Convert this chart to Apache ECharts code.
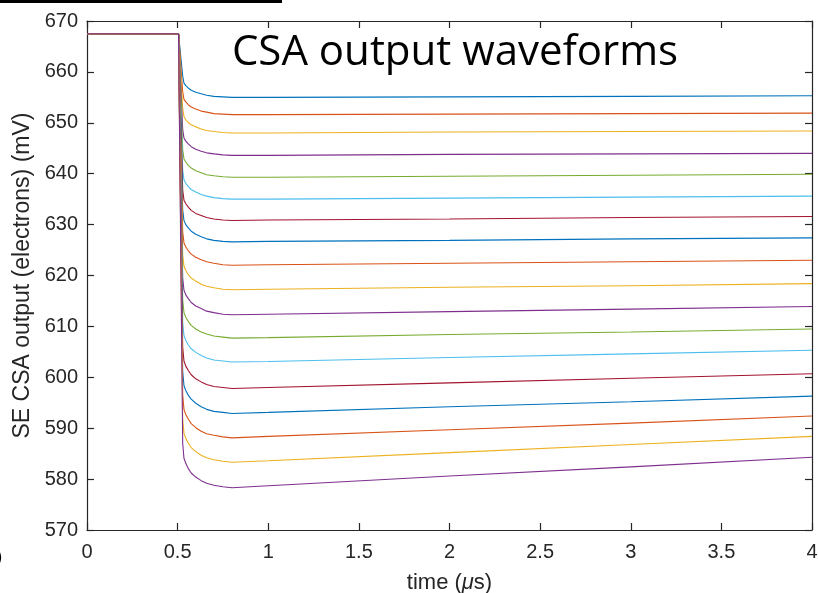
<!DOCTYPE html>
<html>
<head>
<meta charset="utf-8">
<script src="https://cdn.jsdelivr.net/npm/echarts@6/dist/echarts.min.js"></script>
<style>
html,body{margin:0;padding:0;background:#fff;}
#chart{width:818px;height:593px;}
</style>
</head>
<body>
<div id="chart"></div>
<script>
// Sample times (µs)
var times = [0, 0.505, 0.528, 0.535, 0.545, 0.56, 0.575, 0.6, 0.63, 0.66, 0.7, 0.75, 0.8, 1, 2, 3, 4];

// Waveform values (mV), top to bottom
var w01 = [667.5, 667.5, 659.2, 657.8, 657.3, 656.8, 656.4, 656.0, 655.7, 655.4, 655.2, 655.1, 655.0, 655.0, 655.1, 655.2, 655.3];
var w02 = [667.5, 667.5, 656.1, 654.6, 654.1, 653.5, 653.1, 652.7, 652.3, 652.1, 651.8, 651.7, 651.6, 651.6, 651.7, 651.8, 651.9];
var w03 = [667.5, 667.5, 652.8, 651.2, 650.6, 650.0, 649.6, 649.2, 648.8, 648.5, 648.3, 648.1, 648.0, 648.0, 648.2, 648.3, 648.4];
var w04 = [667.5, 667.5, 648.7, 647.0, 646.4, 645.8, 645.3, 644.8, 644.4, 644.1, 643.9, 643.7, 643.6, 643.6, 643.8, 643.9, 644.0];
var w05 = [667.5, 667.5, 644.7, 642.9, 642.3, 641.6, 641.1, 640.6, 640.2, 639.8, 639.6, 639.4, 639.3, 639.3, 639.5, 639.7, 639.9];
var w06 = [667.5, 667.5, 640.7, 638.8, 638.1, 637.4, 636.9, 636.4, 635.9, 635.6, 635.3, 635.1, 635.0, 635.0, 635.2, 635.4, 635.6];
var w07 = [667.5, 667.5, 636.8, 634.8, 634.1, 633.4, 632.8, 632.2, 631.8, 631.4, 631.1, 630.9, 630.8, 630.9, 631.1, 631.4, 631.6];
var w08 = [667.5, 667.5, 632.9, 630.8, 630.0, 629.3, 628.7, 628.1, 627.6, 627.2, 626.9, 626.7, 626.6, 626.7, 626.9, 627.2, 627.4];
var w09 = [667.5, 667.5, 628.6, 626.4, 625.6, 624.8, 624.2, 623.6, 623.1, 622.7, 622.4, 622.1, 622.0, 622.1, 622.4, 622.7, 623.0];
var w10 = [667.5, 667.5, 624.1, 621.8, 621.0, 620.1, 619.5, 618.9, 618.3, 617.9, 617.6, 617.3, 617.2, 617.3, 617.7, 618.0, 618.4];
var w11 = [667.5, 667.5, 619.5, 617.1, 616.2, 615.4, 614.7, 614.0, 613.5, 613.0, 612.7, 612.4, 612.3, 612.4, 612.9, 613.4, 613.9];
var w12 = [667.5, 667.5, 615.2, 612.7, 611.8, 610.9, 610.2, 609.5, 608.9, 608.5, 608.1, 607.9, 607.7, 607.8, 608.4, 608.9, 609.5];
var w13 = [667.5, 667.5, 610.8, 608.2, 607.3, 606.3, 605.6, 604.9, 604.3, 603.8, 603.4, 603.2, 603.0, 603.1, 603.9, 604.6, 605.3];
var w14 = [667.5, 667.5, 605.9, 603.2, 602.2, 601.3, 600.5, 599.7, 599.1, 598.6, 598.2, 598.0, 597.8, 598.0, 598.9, 599.8, 600.7];
var w15 = [667.5, 667.5, 601.2, 598.4, 597.4, 596.4, 595.7, 594.9, 594.2, 593.7, 593.3, 593.1, 592.9, 593.1, 594.2, 595.2, 596.3];
var w16 = [667.5, 667.5, 596.5, 593.7, 592.7, 591.7, 590.9, 590.1, 589.4, 588.9, 588.6, 588.3, 588.1, 588.4, 589.7, 591.0, 592.4];
var w17 = [667.5, 667.5, 591.9, 589.0, 588.0, 587.0, 586.2, 585.4, 584.7, 584.2, 583.8, 583.5, 583.3, 583.6, 585.2, 586.8, 588.4];
var w18 = [667.5, 667.5, 587.0, 584.1, 583.1, 582.0, 581.2, 580.4, 579.7, 579.2, 578.8, 578.5, 578.3, 578.7, 580.6, 582.4, 584.3];

var waves = [w01, w02, w03, w04, w05, w06, w07, w08, w09, w10, w11, w12, w13, w14, w15, w16, w17, w18];
var colors = ['#0072BD', '#D95319', '#EDB120', '#7E2F8E', '#77AC30', '#4DBEEE', '#A2142F'];

var titleText = 'CSA output waveforms';
var xName = 'time ({i|\u03bc}s)';
var yName = 'SE CSA output (electrons) (mV)';

var axisColor = '#262626';
var fontFam = '"Liberation Sans", Arial, Helvetica, sans-serif';

var chart = echarts.init(document.getElementById('chart'), null, {renderer: 'canvas'});

var series = waves.map(function (w, i) {
  return {
    type: 'line',
    xAxisIndex: 0,
    yAxisIndex: 0,
    data: times.map(function (t, j) { return [t, w[j]]; }),
    showSymbol: false,
    smooth: false,
    lineStyle: {width: 1.1, color: colors[i % colors.length]},
    itemStyle: {color: colors[i % colors.length]},
    animation: false,
    silent: true
  };
});

function xAx(pos, show) {
  return {
    type: 'value', position: pos, min: 0, max: 4, interval: 0.5,
    name: show ? xName : '',
    nameLocation: 'middle', nameGap: 42,
    nameTextStyle: {color: axisColor, fontSize: 22, fontFamily: fontFam,
      rich: {i: {fontStyle: 'italic', fontSize: 22, fontFamily: fontFam, color: axisColor}}},
    axisLine: {show: true, onZero: false, lineStyle: {color: axisColor, width: 1.2}},
    axisTick: {show: true, inside: true, length: 7, lineStyle: {color: axisColor, width: 1.2}},
    axisLabel: {show: show, color: axisColor, fontSize: 20, fontFamily: fontFam, margin: 12,
      formatter: function (v) { return String(v); }},
    splitLine: {show: false}
  };
}
function yAx(pos, show) {
  return {
    type: 'value', position: pos, min: 570, max: 670, interval: 10,
    name: show ? yName : '',
    nameLocation: 'middle', nameGap: 48,
    nameTextStyle: {color: axisColor, fontSize: 23, fontFamily: fontFam},
    axisLine: {show: true, onZero: false, lineStyle: {color: axisColor, width: 1.2}},
    axisTick: {show: true, inside: true, length: 7, lineStyle: {color: axisColor, width: 1.2}},
    axisLabel: {show: show, color: axisColor, fontSize: 20, fontFamily: fontFam, margin: 9},
    splitLine: {show: false}
  };
}

chart.setOption({
  animation: false,
  backgroundColor: '#ffffff',
  grid: {left: 87, right: 6, top: 21, bottom: 63, containLabel: false, outerBoundsMode: 'none'},
  xAxis: [xAx('bottom', true), xAx('top', false)],
  yAxis: [yAx('left', true), yAx('right', false)],
  series: series,
  graphic: [
    {type: 'rect', left: 0, top: 0, shape: {x: 0, y: 0, width: 282, height: 3}, style: {fill: '#000'}, silent: true},
    {type: 'text', x: 455, y: 53, z: 100,
      style: {text: titleText, fill: '#000', font: '42px "Open Sans", sans-serif', align: 'center', verticalAlign: 'middle'}},
    {type: 'text', x: -4, y: 557,
      style: {text: ')', fill: '#000', font: '19px "Liberation Sans", Arial, sans-serif', align: 'left', verticalAlign: 'middle'}}
  ]
});
</script>
</body>
</html>
